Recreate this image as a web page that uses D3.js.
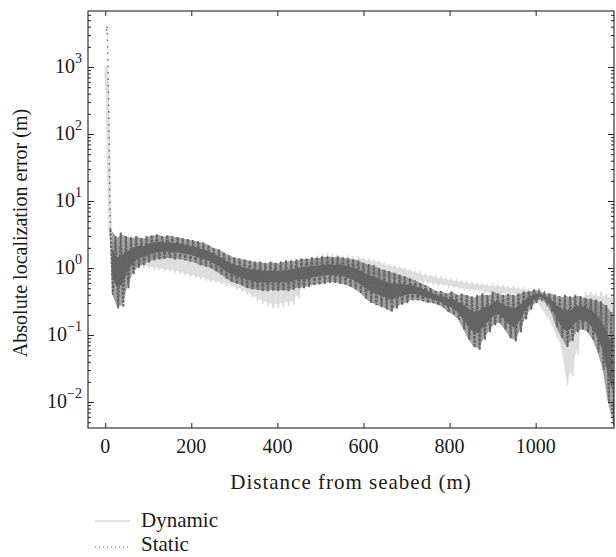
<!DOCTYPE html>
<html>
<head>
<meta charset="utf-8">
<script src="https://cdn.jsdelivr.net/npm/d3@7"></script>
<style>
  body { margin: 0; background: #fff; }
  svg text { font-family: "Liberation Serif", "Times New Roman", serif; fill: #1a1a1a; }
</style>
</head>
<body>
<svg id="chart" width="616" height="557"></svg>
<script>
const xTicks = [0, 200, 400, 600, 800, 1000];
const yExponents = [-2, -1, 0, 1, 2, 3];

// surge right above the seabed
const dynamicSurgeDist = [2, 3, 4, 5, 6, 7, 8, 9, 10, 11, 12];
const dynamicSurge = [700, 1000, 450, 600, 150, 90, 35, 18, 9, 5, 3.0];
const staticSurgeDist = [3, 4, 5, 6, 7, 8, 9, 10, 11, 12];
const staticSurge = [3500, 4200, 3000, 1500, 700, 250, 80, 20, 8, 3.8];

// after that both errors oscillate, period ~12 m
// one crest (hi) and one trough (lo) per period, first crest at 12 m
const periodStart = 12;
const periodLength = 12;

const dynamicHi = [
  3.0, 2.5, 2.2, 1.8, 1.8, 1.85, 1.9, 1.9,
  1.8, 1.75, 1.7, 1.65, 1.6, 1.5, 1.4, 1.35,
  1.3, 1.25, 1.2, 1.15, 1.1, 1.08, 1.05, 1.02, 0.98,
  0.95, 0.92, 0.9, 0.88, 0.85, 0.82, 0.8, 0.8,
  0.82, 0.85, 0.9, 1.0, 1.15, 1.3, 1.45, 1.55,
  1.6, 1.65, 1.6, 1.6, 1.55, 1.55, 1.5, 1.5,
  1.45, 1.4, 1.35, 1.3, 1.2, 1.15, 1.1, 1.05, 1.0,
  0.95, 0.9, 0.85, 0.8,
  0.78, 0.75, 0.72, 0.7, 0.68, 0.66, 0.64, 0.62, 0.6, 0.58, 0.58,
  0.56, 0.56, 0.55, 0.54, 0.52, 0.52, 0.5, 0.5, 0.48, 0.46,
  0.36, 0.32, 0.28, 0.22, 0.16, 0.09, 0.1, 0.2, 0.35, 0.45, 0.45,
  0.42, 0.45, 0.42, 0.4
];
const dynamicLo = [
  0.8, 0.9, 0.95, 1.0, 0.98, 1.0, 1.0, 0.98,
  0.95, 0.93, 0.9, 0.88, 0.85, 0.82, 0.78, 0.75,
  0.72, 0.68, 0.65, 0.62, 0.6, 0.57, 0.54, 0.52, 0.48,
  0.44, 0.4, 0.36, 0.32, 0.29, 0.27, 0.25, 0.25,
  0.26, 0.27, 0.28, 0.35, 0.5, 0.62, 0.7, 0.75,
  0.8, 0.82, 0.82, 0.8, 0.8, 0.78, 0.78, 0.76,
  0.75, 0.74, 0.72, 0.72, 0.7, 0.68, 0.68, 0.66, 0.65,
  0.64, 0.62, 0.61, 0.6,
  0.58, 0.56, 0.55, 0.53, 0.52, 0.5, 0.48, 0.47, 0.46, 0.45, 0.44,
  0.43, 0.42, 0.41, 0.41, 0.4, 0.4, 0.38, 0.37, 0.36, 0.34,
  0.25, 0.19, 0.14, 0.09, 0.06, 0.018, 0.024, 0.05, 0.12, 0.16, 0.18,
  0.17, 0.16, 0.15, 0.15
];

const staticHi = [
  3.8, 3.0, 3.4, 3.0, 2.9, 3.0, 2.8, 3.0,
  3.1, 3.2, 3.0, 3.1, 3.0, 2.9, 2.8, 2.7,
  2.6, 2.5, 2.4, 2.2, 2.0, 1.9, 1.7, 1.55, 1.45,
  1.4, 1.35, 1.3, 1.25, 1.25, 1.2, 1.25, 1.2,
  1.25, 1.3, 1.3, 1.35, 1.4, 1.4, 1.45, 1.45,
  1.5, 1.5, 1.45, 1.5, 1.45, 1.4, 1.35, 1.3,
  1.2, 1.15, 1.1, 1.0, 0.95, 0.9, 0.85, 0.8, 0.75,
  0.7, 0.65, 0.6, 0.55,
  0.5, 0.45, 0.45, 0.42, 0.45, 0.4, 0.42, 0.4, 0.38, 0.4, 0.42, 0.4,
  0.45, 0.42, 0.4, 0.42, 0.4, 0.42, 0.45, 0.45, 0.48, 0.45, 0.42, 0.42,
  0.4, 0.38, 0.4, 0.38, 0.4, 0.38, 0.36, 0.35, 0.34, 0.32, 0.28, 0.22
];
const staticLo = [
  0.4, 0.25, 0.26, 0.5, 0.8, 1.0, 1.1, 1.2,
  1.3, 1.35, 1.35, 1.4, 1.35, 1.35, 1.3, 1.25,
  1.2, 1.1, 1.05, 1.0, 0.9, 0.8, 0.7, 0.62, 0.58,
  0.55, 0.5, 0.48, 0.47, 0.45, 0.45, 0.46, 0.45,
  0.46, 0.45, 0.47, 0.5, 0.5, 0.52, 0.55, 0.56,
  0.58, 0.6, 0.6, 0.58, 0.56, 0.52, 0.48, 0.42,
  0.35, 0.3, 0.28, 0.26, 0.24, 0.22, 0.25, 0.28, 0.3,
  0.33, 0.33, 0.32, 0.3,
  0.3, 0.28, 0.26, 0.22, 0.2, 0.17, 0.12, 0.085, 0.065, 0.06, 0.085, 0.11,
  0.14, 0.15, 0.12, 0.09, 0.08, 0.11, 0.17, 0.24, 0.3, 0.34, 0.3, 0.22,
  0.13, 0.09, 0.066, 0.08, 0.11, 0.12, 0.11, 0.085, 0.055, 0.03, 0.01, 0.0045
];

const svg = d3.select('#chart');
const plotLeft = 88, plotTop = 11, plotRight = 614, plotBottom = 428;

const x = d3.scaleLinear().domain([-40, 1182]).range([plotLeft, plotRight]);
const y = d3.scaleLog().domain([0.0041, 6850]).range([plotBottom, plotTop]);

// crest at the period start, trough half a period later
function zigzag(hi, lo) {
  const pts = [];
  hi.forEach((h, i) => {
    const d = periodStart + i * periodLength;
    pts.push([d, h], [d + periodLength / 2, lo[i]]);
  });
  return pts;
}

// middle part of each swing (share of it, in log space); share 1 = whole swing
function core(hi, lo, share) {
  return hi.map((h, i) => {
    const a = Math.log10(h), b = Math.log10(lo[i]);
    const mid = (a + b) / 2, half = (a - b) / 2 * share;
    return {
      d: periodStart + i * periodLength + periodLength / 4,
      hi: Math.pow(10, mid + half),
      lo: Math.pow(10, mid - half)
    };
  });
}

const line = d3.line().x(d => x(d[0])).y(d => y(d[1]));
const area = d3.area().x(d => x(d.d)).y0(d => y(d.lo)).y1(d => y(d.hi));

svg.append('clipPath').attr('id', 'plotClip')
  .append('rect').attr('x', plotLeft).attr('y', plotTop)
  .attr('width', plotRight - plotLeft).attr('height', plotBottom - plotTop);

const plot = svg.append('g').attr('clip-path', 'url(#plotClip)');

const dynamicSurgePts = dynamicSurgeDist.map((d, i) => [d, dynamicSurge[i]]);
const staticSurgePts = staticSurgeDist.map((d, i) => [d, staticSurge[i]]);

// dynamic
plot.append('path').datum(core(dynamicHi, dynamicLo, 0.75))
  .attr('d', area).attr('fill', '#e0e0e0');
plot.append('path').datum(zigzag(dynamicHi, dynamicLo))
  .attr('d', line).attr('fill', 'none')
  .attr('stroke', '#dcdcdc').attr('stroke-width', 1.6);
plot.append('path').datum(dynamicSurgePts)
  .attr('d', line).attr('fill', 'none')
  .attr('stroke', '#dedede').attr('stroke-width', 3.5);

// static
plot.append('path').datum(core(staticHi, staticLo, 0.95))
  .attr('d', area).attr('fill', '#666').attr('opacity', 0.6);
plot.append('path').datum(core(staticHi, staticLo, 0.4))
  .attr('d', area).attr('fill', '#636363');
plot.append('path').datum(zigzag(staticHi, staticLo))
  .attr('d', line).attr('fill', 'none')
  .attr('stroke', '#656565').attr('stroke-width', 1.9)
  .attr('stroke-dasharray', '3,1');
plot.append('path').datum(staticSurgePts)
  .attr('d', line).attr('fill', 'none')
  .attr('stroke', '#666').attr('stroke-width', 1.4)
  .attr('stroke-dasharray', '1.5,5');

// axes, ticks pointing inward on all four sides
const minorTicks = [];
for (let e = -3; e <= 3; e++) {
  for (let m = 2; m <= 9; m++) {
    const v = m * Math.pow(10, e);
    if (v > 0.0041 && v < 6850) minorTicks.push(v);
  }
}
const majorY = yExponents.map(e => Math.pow(10, e));

function tidy(sel) {
  sel.select('.domain').remove();
  sel.selectAll('line').attr('stroke', '#222');
}

svg.append('g').attr('transform', `translate(0,${plotBottom})`)
  .call(d3.axisBottom(x).tickValues(xTicks).tickSize(-5).tickFormat('')).call(tidy);
svg.append('g').attr('transform', `translate(0,${plotTop})`)
  .call(d3.axisTop(x).tickValues(xTicks).tickSize(-5).tickFormat('')).call(tidy);
svg.append('g').attr('transform', `translate(${plotLeft},0)`)
  .call(d3.axisLeft(y).tickValues(majorY).tickSize(-6).tickFormat('')).call(tidy);
svg.append('g').attr('transform', `translate(${plotLeft},0)`)
  .call(d3.axisLeft(y).tickValues(minorTicks).tickSize(-3).tickFormat('')).call(tidy);
svg.append('g').attr('transform', `translate(${plotRight},0)`)
  .call(d3.axisRight(y).tickValues(majorY).tickSize(-6).tickFormat('')).call(tidy);
svg.append('g').attr('transform', `translate(${plotRight},0)`)
  .call(d3.axisRight(y).tickValues(minorTicks).tickSize(-3).tickFormat('')).call(tidy);

svg.append('rect').attr('x', plotLeft).attr('y', plotTop)
  .attr('width', plotRight - plotLeft).attr('height', plotBottom - plotTop)
  .attr('fill', 'none').attr('stroke', '#222').attr('stroke-width', 1.1);

// tick labels
svg.append('g').selectAll('text').data(xTicks).join('text')
  .attr('x', d => x(d)).attr('y', plotBottom + 25)
  .attr('text-anchor', 'middle').attr('font-size', 20)
  .text(d => d);

const yLabels = svg.append('g').selectAll('text').data(yExponents).join('text')
  .attr('x', 82).attr('y', d => y(Math.pow(10, d)) + 6)
  .attr('text-anchor', 'end').attr('font-size', 20);
yLabels.append('tspan').text('10');
yLabels.append('tspan').attr('dy', -10).attr('font-size', 14)
  .text(d => d < 0 ? '\u2212' + Math.abs(d) : d);

// axis titles
svg.append('text').attr('x', (plotLeft + plotRight) / 2).attr('y', 489)
  .attr('text-anchor', 'middle').attr('font-size', 21)
  .attr('letter-spacing', 1)
  .text('Distance from seabed (m)');
svg.append('text').attr('transform', 'translate(27,233) rotate(-90)')
  .attr('text-anchor', 'middle').attr('font-size', 20)
  .text('Absolute localization error (m)');

// legend
const legend = svg.append('g');
legend.append('line').attr('x1', 95).attr('x2', 130).attr('y1', 521).attr('y2', 521)
  .attr('stroke', '#d9d9d9').attr('stroke-width', 1.5);
legend.append('text').attr('x', 141).attr('y', 527).attr('font-size', 21).text('Dynamic');
legend.append('line').attr('x1', 95).attr('x2', 130).attr('y1', 547).attr('y2', 547)
  .attr('stroke', '#666').attr('stroke-width', 1.2).attr('stroke-dasharray', '1,3');
legend.append('text').attr('x', 141).attr('y', 551).attr('font-size', 21).text('Static');
</script>
</body>
</html>
